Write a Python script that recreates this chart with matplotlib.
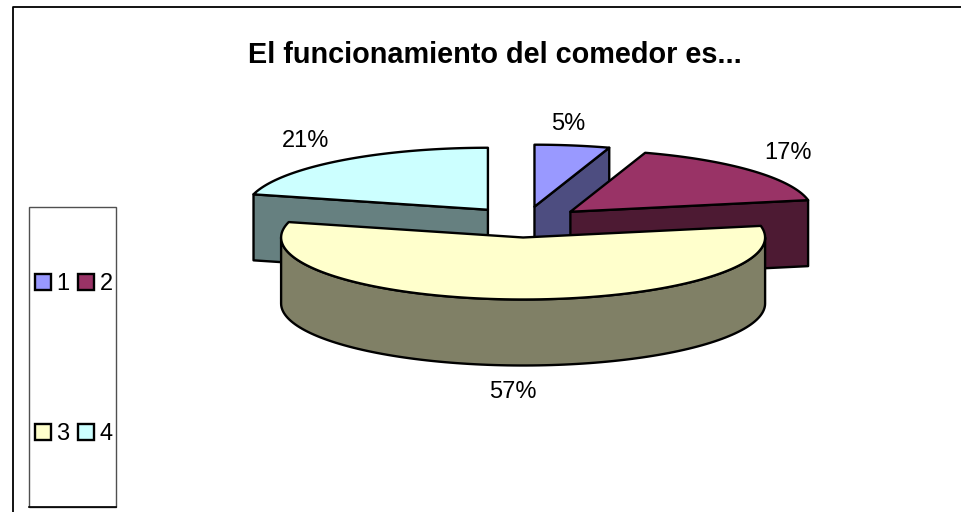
import matplotlib
matplotlib.use("Agg")
import matplotlib.pyplot as plt
from matplotlib.patches import Polygon, Rectangle
import numpy as np

labels = ["1", "2", "3", "4"]
values = [5, 17, 57, 21]
top_colors = ["#9999FF", "#993366", "#FFFFCC", "#CCFFFF"]
side_colors = ["#4D4D80", "#4D1A33", "#808066", "#668080"]

plt.rcParams['font.family'] = ['Liberation Sans', 'DejaVu Sans']

# pie layout, in pixels of the picture
cx, cy = 525, 222
rx, ry = 242, 62
depth = 66
explode = 0.25
lw = 1.7


def rim(a, cen):
    # angle in degrees, clockwise from the top
    r = np.radians(a)
    return cen[0] + rx * np.sin(r), cen[1] - ry * np.cos(r)


def rim_line(a1, a2, cen):
    t = np.linspace(a1, a2, 120)
    x, y = rim(t, cen)
    return np.column_stack([x, y])


fig = plt.figure(figsize=(9.61, 5.12), dpi=100)
ax = fig.add_axes([0, 0, 1, 1])
ax.set_xlim(0, 961)
ax.set_ylim(512, 0)
ax.axis('off')

total = sum(values)
edges = np.concatenate([[0], np.cumsum(values)]) / total * 360
pcts = [str(round(v / total * 100)) + "%" for v in values]

# outer frame, only top and left are in the picture
ax.plot([961, 13, 13], [6.5, 6.5, 512], color='black', lw=1.3)

# back slices first, big front slice last
for i in [0, 1, 3, 2]:
    a1, a2 = edges[i], edges[i + 1]
    mid = np.radians((a1 + a2) / 2)
    cen = (cx + explode * rx * np.sin(mid), cy - explode * ry * np.cos(mid))
    arc = rim_line(a1, a2, cen)
    down = np.array([0, depth])
    apex = np.array(cen)
    # side faces that can be seen from the front
    if i == 0 or i == 1:
        end = np.array(rim(a2, cen))
        face = [apex, end, end + down, apex + down]
        ax.add_patch(Polygon(face, fc=side_colors[i], ec='black', lw=lw, joinstyle='round'))
    if i == 3:
        end = np.array(rim(a1, cen))
        face = [apex, end, end + down, apex + down]
        ax.add_patch(Polygon(face, fc=side_colors[i], ec='black', lw=lw, joinstyle='round'))
    if i == 2:
        front = rim_line(max(a1, 90), min(a2, 270), cen)
        face = np.vstack([front, front[::-1] + down])
        ax.add_patch(Polygon(face, fc=side_colors[i], ec='black', lw=lw, joinstyle='round'))
    ax.add_patch(Polygon(np.vstack([[apex], arc]), fc=top_colors[i], ec='black', lw=lw, joinstyle='round'))

# percent labels
label_pos = [(568, 124), (788, 153), (513, 392), (306, 141)]
for s, p in zip(pcts, label_pos):
    ax.text(p[0], p[1], s, fontsize=17, ha='center', va='center', color='black')

ax.text(495, 55, "El funcionamiento del comedor es...", fontsize=20.8, fontweight='bold',
        ha='center', va='center', color='black')

# legend
ax.add_patch(Rectangle((29, 207), 87, 300, fc='white', ec='#505050', lw=1))
ax.plot([29, 116], [507, 507], color='black', lw=1.2)
leg_pos = [(35, 282), (78, 282), (35, 432), (78, 432)]
for lab, col, p in zip(labels, top_colors, leg_pos):
    ax.add_patch(Rectangle((p[0], p[1] - 8), 16, 16, fc=col, ec='black', lw=1.7))
    ax.text(p[0] + 28, p[1] + 2, lab, fontsize=17, ha='center', va='center', color='black')

fig.savefig("out.png", dpi=100)
